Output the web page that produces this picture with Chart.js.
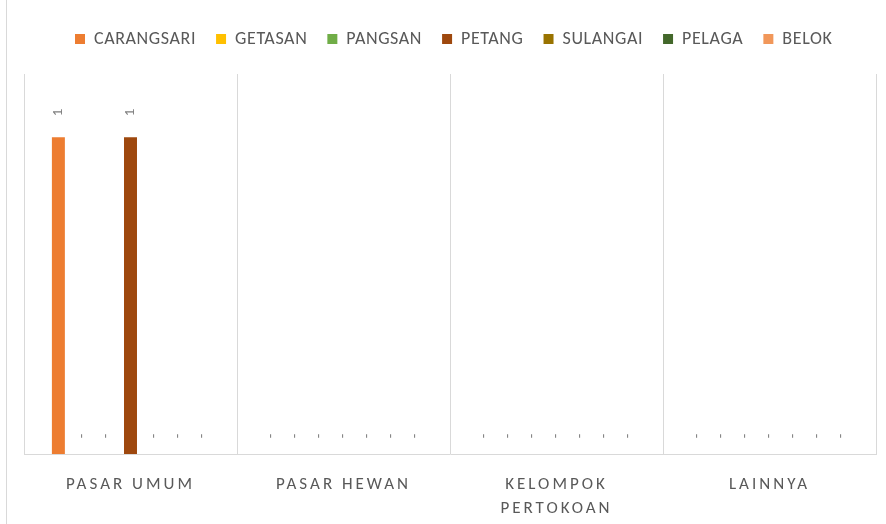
<!DOCTYPE html>
<html>
<head>
<meta charset="utf-8">
<script src="https://cdn.jsdelivr.net/npm/chart.js@4/dist/chart.umd.min.js"></script>
<style>
  html, body { margin: 0; padding: 0; background: #fff; }
  #wrap { position: relative; width: 886px; height: 524px; }
</style>
</head>
<body>
<div id="wrap"><canvas id="pasarChart" width="886" height="524"></canvas></div>
<script>
const categories = ['PASAR UMUM', 'PASAR HEWAN', ['KELOMPOK', 'PERTOKOAN'], 'LAINNYA'];

const carangsari = [1, 0, 0, 0];
const getasan = [0, 0, 0, 0];
const pangsan = [0, 0, 0, 0];
const petang = [1, 0, 0, 0];
const sulangai = [0, 0, 0, 0];
const pelaga = [0, 0, 0, 0];
const belok = [0, 0, 0, 0];

const seriesNames = ['CARANGSARI', 'GETASAN', 'PANGSAN', 'PETANG', 'SULANGAI', 'PELAGA', 'BELOK'];
const seriesValues = [carangsari, getasan, pangsan, petang, sulangai, pelaga, belok];
const seriesColors = ['#ED7D31', '#FFC000', '#70AD47', '#9E480E', '#997300', '#43682B', '#F1975A'];

const FONT = 'Carlito, Lato, "Open Sans", sans-serif';

// left frame line, wider spacing on x labels, gap under legend, value labels
const extras = {
    id: 'extras',
    beforeLayout(chart) {
        const lg = chart.legend;
        if (lg && !lg._gap) {
            const fit = lg.fit.bind(lg);
            lg.fit = function () {
                fit();
                this.height += 16;
                if (this.lineWidths && this.lineWidths.length) this.lineWidths[0] += 22;
            };
            lg._gap = true;
        }
    },
    beforeDraw(chart) {
        const ctx = chart.ctx;
        ctx.letterSpacing = '0.6px';
        const sx = chart.scales.x;
        if (!sx._spaced) {
            const orig = sx.drawLabels.bind(sx);
            sx.drawLabels = function (area) {
                ctx.save();
                ctx.letterSpacing = '3px';
                orig(area);
                ctx.restore();
            };
            sx._spaced = true;
        }
        ctx.save();
        ctx.strokeStyle = '#d9d9d9';
        ctx.lineWidth = 1;
        ctx.beginPath();
        ctx.moveTo(6.5, 0);
        ctx.lineTo(6.5, chart.height);
        ctx.stroke();
        ctx.restore();
    },
    afterDatasetsDraw(chart) {
        const ctx = chart.ctx;
        ctx.save();
        ctx.letterSpacing = '0px';
        ctx.fillStyle = '#7f7f7f';
        ctx.font = '15px ' + FONT;
        ctx.textAlign = 'center';
        ctx.textBaseline = 'middle';
        chart.data.datasets.forEach((ds, i) => {
            chart.getDatasetMeta(i).data.forEach((bar, j) => {
                const v = ds.data[j];
                const txt = v === 0 ? '-' : String(v);
                const y = v === 0 ? bar.base - 18 : bar.y - 25;
                ctx.save();
                ctx.translate(bar.x, y);
                ctx.rotate(-Math.PI / 2);
                ctx.fillText(txt, 0, 0);
                ctx.restore();
            });
        });
        ctx.restore();
    }
};

const ctx = document.getElementById('pasarChart').getContext('2d');
const pasarChart = new Chart(ctx, {
    type: 'bar',
    data: {
        labels: categories,
        datasets: seriesNames.map((name, i) => ({
            label: name,
            data: seriesValues[i],
            backgroundColor: seriesColors[i],
            borderWidth: 0,
            categoryPercentage: 0.79,
            barPercentage: 0.54
        }))
    },
    options: {
        responsive: false,
        animation: false,
        layout: { padding: { left: 24, right: 10, top: 10, bottom: 0 } },
        plugins: {
            legend: {
                position: 'top',
                labels: {
                    boxWidth: 10,
                    boxHeight: 10,
                    padding: 20,
                    color: '#595959',
                    font: { family: FONT, size: 18 }
                }
            },
            tooltip: { enabled: false }
        },
        scales: {
            x: {
                grid: { color: '#d9d9d9', drawTicks: false },
                border: { color: '#d9d9d9' },
                ticks: {
                    color: '#595959',
                    padding: 19,
                    font: { family: FONT, size: 17, lineHeight: 1.4 },
                    maxRotation: 0
                },
                afterFit(scale) {
                    scale.height = 70;
                }
            },
            y: {
                display: false,
                min: 0,
                max: 1.2
            }
        }
    },
    plugins: [extras]
});
</script>
</body>
</html>
